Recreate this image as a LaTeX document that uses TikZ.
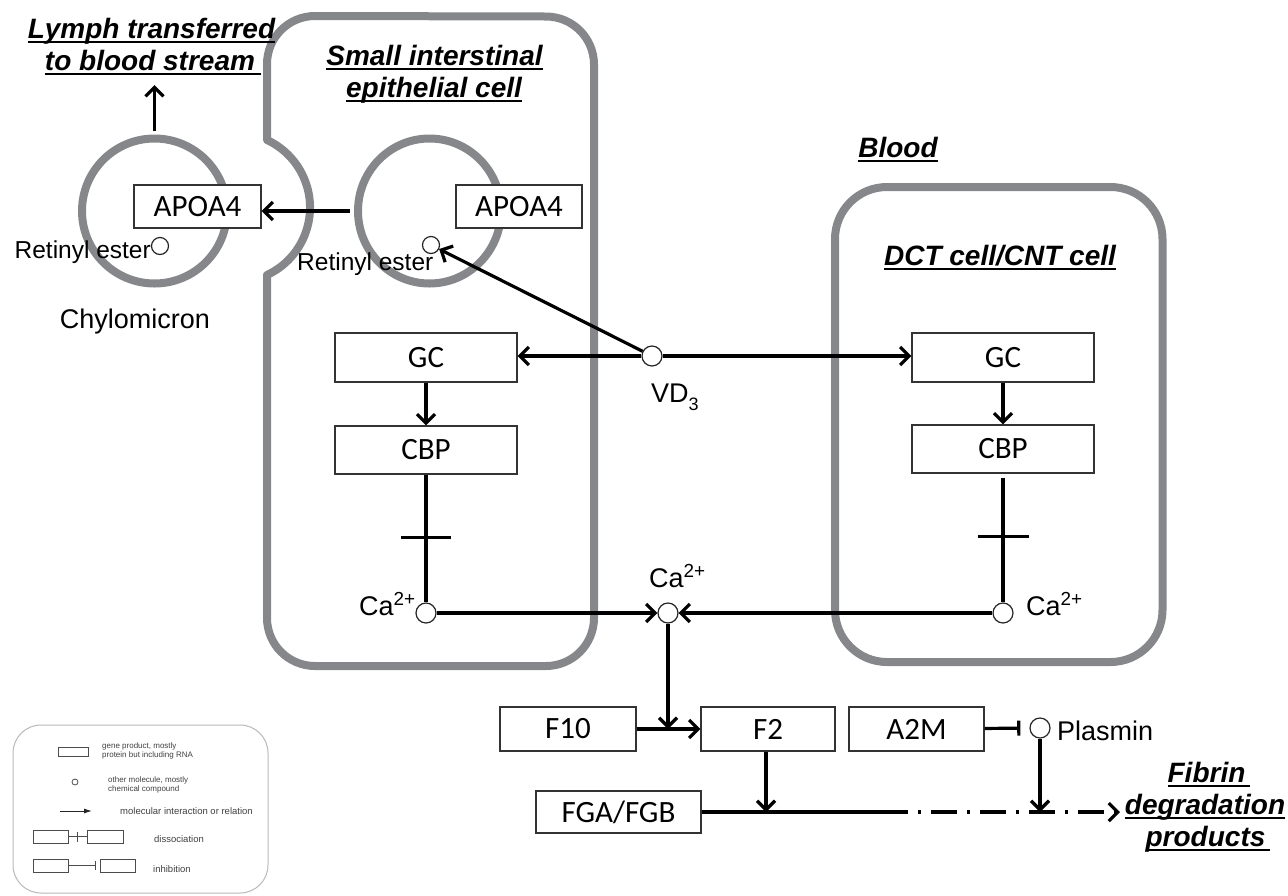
\documentclass[tikz,border=0pt]{standalone}
\usepackage{fontspec}
\setmainfont{Liberation Sans}
\newfontfamily\boxfont{Carlito}
\usetikzlibrary{arrows.meta,shapes.geometric,calc}
\definecolor{cellgray}{RGB}{134,135,139}
\newcommand\fs[1]{\fontsize{#1}{#1}\selectfont}
\newcommand\myul[2][0pt]{\leavevmode\setbox0\hbox{#2\kern#1}\rlap{\copy0}\raisebox{-4.5pt}{\rule{\wd0}{2pt}}}
\begin{document}
\begin{tikzpicture}[x=1pt,y=-1pt,
  box/.style={draw=black!80, line width=1.2pt, fill=white, inner sep=0pt, font=\boxfont\fs{31}},
  mol/.style={circle, draw=black!85, line width=1.2pt, fill=white, minimum size=20pt, inner sep=0pt},
  smol/.style={mol, minimum size=17pt},
  conn/.style={line width=3.2pt, black},
  arr/.style={conn, -{Straight Barb[length=9pt,width=18pt]}},
  cell/.style={draw=cellgray, line width=8pt, line join=round},
  title/.style={font=\bfseries\itshape\fs{28}, anchor=base, inner sep=0pt},
  lab/.style={font=\fs{27}, inner sep=0pt},
  lgbox/.style={draw=black!70, line width=0.8pt, minimum height=13pt, inner sep=0pt},
  lgtext/.style={font=\fontsize{8}{9.5}\selectfont, text=black!75, align=left, inner sep=0pt},
  lgtext2/.style={font=\fs{9.5}, text=black!75, anchor=base west, inner sep=0pt}]
\useasboundingbox (0,0) rectangle (1288,895);

% cells
\draw[cell] (267,140) -- (267,64) arc[start angle=180,end angle=270,radius=48]
  -- (546,16.5) arc[start angle=270,end angle=360,radius=48]
  -- (594,618) arc[start angle=0,end angle=90,radius=48]
  -- (315,666) arc[start angle=90,end angle=180,radius=48]
  -- (267,275) arc[start angle=65,end angle=-65,radius=74.5] -- cycle;
\draw[cell, rounded corners=52pt] (835,187) rectangle (1162.5,662);
\node[ellipse, cell, minimum width=145pt, minimum height=145pt, inner sep=0pt] (chylo) at (154.5,211) {};
\node[ellipse, cell, minimum width=143pt, minimum height=145pt, inner sep=0pt] (vesR) at (429.5,211) {};

% titles
\node[title] (ly1) at (151.5,38) {\myul{Lymph transferred}};
\node[title] (ly2) at (153,70) {\myul[6pt]{to blood stream}};
\node[title] (si1) at (434.5,65) {\myul{Small interstinal}};
\node[title] (si2) at (434,97) {\myul{epithelial cell}};
\node[title] (blood) at (898,157) {\myul{Blood}};
\node[title] (dct) at (1000,265) {\myul{DCT cell/CNT cell}};
\node[title] (fib1) at (1209,782) {\myul[5pt]{Fibrin}};
\node[title] (fib2) at (1205,814) {\myul{degradation}};
\node[title] (fib3) at (1208,846) {\myul[5pt]{products}};

% boxes
\node[box, minimum width=127pt, minimum height=43pt] (apoL) at (197.5,206.5) {APOA4};
\node[box, minimum width=126pt, minimum height=43pt] (apoR) at (519,206.5) {APOA4};
\node[box, minimum width=182pt, minimum height=49pt] (gcL) at (426,357.5) {GC};
\node[box, minimum width=182pt, minimum height=48pt] (cbpL) at (426,450) {CBP};
\node[box, minimum width=182pt, minimum height=49pt] (gcR) at (1003,357.5) {GC};
\node[box, minimum width=182pt, minimum height=48pt] (cbpR) at (1003,449) {CBP};
\node[box, minimum width=136pt, minimum height=44pt] (f10) at (568,729) {F10};
\node[box, minimum width=134pt, minimum height=44pt] (f2) at (768,729) {F2};
\node[box, minimum width=135pt, minimum height=44pt] (a2m) at (916.5,729) {A2M};
\node[box, minimum width=165pt, minimum height=42pt] (fga) at (618.5,812) {FGA/FGB};

% molecules
\node[smol] (retL) at (160,246) {};
\node[smol] (retR) at (431,245) {};
\node[mol] (vd) at (652,356) {};
\node[mol] (caL) at (426,613) {};
\node[mol] (caC) at (668,613) {};
\node[mol] (caR) at (1003,613) {};
\node[mol] (pla) at (1040,728) {};

% labels
\node[lab, font=\fs{24.5}, anchor=base east] (retLlab) at (151,258) {Retinyl ester};
\node[lab, font=\fs{24.5}, anchor=base west] (retRlab) at (297,270) {Retinyl ester};
\node[lab, anchor=base] (chylab) at (135,328) {Chylomicron};
\node[lab, anchor=base west] (vdlab) at (651,402) {VD\raisebox{-0.3em}{\fs{18}3}};
\node[lab, anchor=base west] (caLlab) at (359,615) {Ca\textsuperscript{2+}};
\node[lab, anchor=base west] (caClab) at (649,587) {Ca\textsuperscript{2+}};
\node[lab, anchor=base west] (caRlab) at (1026,615) {Ca\textsuperscript{2+}};
\node[lab, anchor=base west] (plalab) at (1057,740) {Plasmin};

% connectors
\coordinate (lymph) at (154.5,85);
\draw[arr, shorten <=4pt] (chylo.north) -- (lymph);
\draw[arr, shorten <=4pt] (vesR.west) -- (vesR.west -| apoL.east);
\draw[arr] (vd) -- (retR);
\draw[arr] (vd) -- (vd -| gcL.east);
\draw[arr] (vd) -- (vd -| gcR.west);
\draw[arr] (gcL) -- (cbpL);
\draw[arr] (gcR) -- (cbpR);
\draw[conn] (cbpL.south) -- coordinate[pos=0.49] (tkL) (caL);
\draw[conn] ([xshift=-25pt]tkL) -- ([xshift=25pt]tkL);
\draw[conn] ([yshift=-4pt]cbpR.south) -- coordinate[pos=0.47] (tkR) (caR);
\draw[conn] ([xshift=-25.5pt]tkR) -- ([xshift=25.5pt]tkR);
\draw[arr] (caL) -- (caC);
\draw[arr] (caR) -- (caC);
\draw[arr] (f10) -- (f2);
\coordinate (j1) at (caC |- f10.east);
\draw[arr] (caC) -- (j1);
\coordinate (j2) at ([xshift=-2pt]f2.south |- fga.east);
\draw[arr] ([xshift=-2pt]f2.south) -- (j2);
\coordinate (j3) at (pla.south |- fga.east);
\draw[arr] (pla) -- (j3);
\coordinate (m1) at (908,812);
\coordinate (fdp) at (1120,812);
\draw[conn] (fga.east) -- (m1);
\draw[arr, dash pattern=on 3pt off 10pt on 26pt off 10pt, dash phase=39pt] (m1) -- (fdp);
\draw[conn, -{Bar[width=15pt]}, shorten >=9pt] (a2m) -- (pla);

% legend
\draw[gray!55, line width=1pt, rounded corners=28pt] (13,725) rectangle (268,893);
\node[lgbox, minimum width=30pt, minimum height=9pt] (lg1) at (73,751.5) {};
\node[lgtext, anchor=north west] (lg1t) at (102,742) {gene product, mostly\\protein but including RNA};
\node[circle, draw=black!70, line width=0.8pt, minimum size=6pt, inner sep=0pt] (lg2) at (75,782) {};
\node[lgtext, anchor=north west] (lg2t) at (108,776) {other molecule, mostly\\chemical compound};
\coordinate (lg3a) at (60,811);
\coordinate (lg3b) at (92,811);
\draw[line width=0.9pt, black!85, -{Latex[length=8pt,width=5pt]}] (lg3a) -- (lg3b);
\node[lgtext2] (lg3t) at (120,814) {molecular interaction or relation};
\node[lgbox, minimum width=35pt] (d1) at (50.5,836.5) {};
\node[lgbox, minimum width=36pt] (d2) at (105,836.5) {};
\draw[line width=0.8pt, black!70] (d1) -- coordinate[pos=0.5] (dm) (d2);
\draw[line width=0.8pt, black!70] ([yshift=5pt]dm) -- ([yshift=-5pt]dm);
\node[lgtext2] (d3) at (154,842) {dissociation};
\node[lgbox, minimum width=35pt] (i1) at (50.5,865.5) {};
\node[lgbox, minimum width=35pt] (i2) at (117.5,865.5) {};
\draw[line width=0.8pt, black!70, -{Bar[width=9pt]}, shorten >=4pt] (i1) -- (i2);
\node[lgtext2] (i3) at (153,872) {inhibition};
\end{tikzpicture}
\end{document}
